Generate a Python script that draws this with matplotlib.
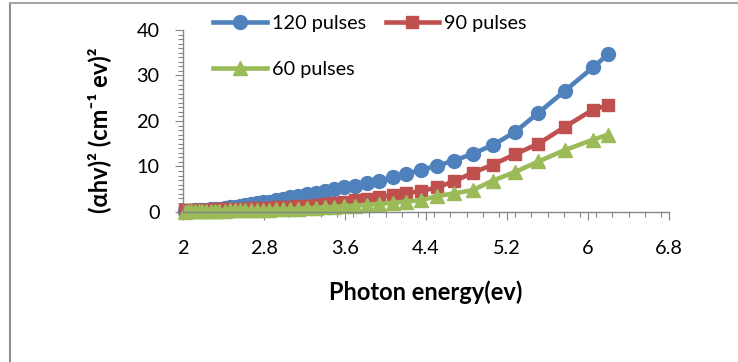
import matplotlib
matplotlib.use("Agg")
import matplotlib.pyplot as plt
from matplotlib.lines import Line2D
from matplotlib.ticker import MultipleLocator

plt.rcParams['font.family'] = ['Lato', 'DejaVu Sans']

# photon energy (eV) and (alpha h v)^2
energy = [6.20, 6.05, 5.77, 5.51, 5.28, 5.06, 4.86, 4.68, 4.51, 4.35, 4.20,
          4.07, 3.94, 3.82, 3.70, 3.59, 3.49, 3.40, 3.31, 3.22, 3.14, 3.06,
          2.99, 2.92, 2.85, 2.79, 2.73, 2.67, 2.61, 2.56, 2.51, 2.46, 2.41,
          2.36, 2.32, 2.28, 2.23, 2.19, 2.16, 2.12, 2.08, 2.05, 2.02]
pulses120 = [34.7, 31.8, 26.6, 21.8, 17.6, 14.7, 12.8, 11.3, 10.2, 9.2, 8.4,
             7.6, 6.9, 6.3, 5.8, 5.4, 5.0, 4.6, 4.2, 3.9, 3.5, 3.2,
             2.9, 2.6, 2.3, 2.1, 1.9, 1.7, 1.5, 1.3, 1.1, 1.0, 0.85,
             0.75, 0.65, 0.55, 0.5, 0.45, 0.4, 0.35, 0.3, 0.25, 0.2]
pulses90 = [23.5, 22.5, 18.7, 15.0, 12.7, 10.4, 8.6, 6.8, 5.4, 4.6, 4.1,
            3.7, 3.3, 2.9, 2.6, 2.3, 2.0, 1.8, 1.6, 1.4, 1.3, 1.2,
            1.1, 1.0, 0.95, 0.9, 0.85, 0.8, 0.75, 0.7, 0.65, 0.6, 0.6,
            0.55, 0.55, 0.5, 0.5, 0.5, 0.45, 0.45, 0.45, 0.45, 0.45]
pulses60 = [17.0, 15.9, 13.6, 11.1, 8.8, 6.9, 4.8, 4.1, 3.5, 2.6, 2.3,
            2.0, 1.8, 1.6, 1.4, 1.3, 1.1, 1.0, 0.9, 0.8, 0.7, 0.65,
            0.6, 0.55, 0.5, 0.5, 0.45, 0.45, 0.4, 0.4, 0.35, 0.35, 0.3,
            0.3, 0.3, 0.25, 0.25, 0.25, 0.2, 0.2, 0.2, 0.15, 0.1]
labels = ["120 pulses", "90 pulses", "60 pulses"]
xticks = [2, 2.8, 3.6, 4.4, 5.2, 6, 6.8]
yticks = [0, 10, 20, 30, 40]

fs = 14.3
lfs = 17
gray = '#868686'

fig = plt.figure(figsize=(7.38, 3.62), dpi=100)
ax = fig.add_axes([183/738, 1-212/362, (669-183)/738, (212-30)/362])

lw = 3.3
h1, = ax.plot(energy, pulses120, color='#4F81BD', lw=lw, marker='o', ms=10, clip_on=False, label=labels[0])
h2, = ax.plot(energy, pulses90, color='#C0504D', lw=lw, marker='s', ms=9, clip_on=False, label=labels[1])
h3, = ax.plot(energy, pulses60, color='#9BBB59', lw=lw, marker='^', ms=10, clip_on=False, label=labels[2])

ax.set_xlim(2, 6.8)
ax.set_ylim(0, 40)
ax.set_xticks(xticks)
ax.set_xticklabels([str(t) for t in xticks])
ax.set_yticks(yticks)
ax.xaxis.set_minor_locator(MultipleLocator(0.16))
ax.yaxis.set_minor_locator(MultipleLocator(1))

for s in ['top', 'right']:
    ax.spines[s].set_visible(False)
for s in ['left', 'bottom']:
    ax.spines[s].set_color(gray)
    ax.spines[s].set_linewidth(1.0)
ax.tick_params(which='major', length=6, width=0.8, color=gray, labelsize=fs, pad=11)
ax.tick_params(which='minor', length=3.5, width=0.8, color=gray)
ax.tick_params(axis='x', which='major', pad=14)

ax.set_xlabel("Photon energy(ev)", fontsize=lfs, fontweight='bold', labelpad=17)
ax.set_ylabel("(αhv)² (cm⁻¹ ev)²", fontsize=lfs, fontweight='bold')
ax.yaxis.set_label_coords(-72/486, 0.45)

fig.legend([h1, h3, h2], [labels[0], labels[2], labels[1]], ncol=2,
           loc='upper left', bbox_to_anchor=(213/738, 1-15/362),
           frameon=False, fontsize=fs, handlelength=2.7, handletextpad=0.25,
           columnspacing=1.0, labelspacing=1.45, borderpad=0, borderaxespad=0)

# chart area border
fig.add_artist(Line2D([10/738, 10/738], [0, 1-3/362], transform=fig.transFigure, color='#8c8c8c', lw=1.5))
fig.add_artist(Line2D([10/738, 1], [1-3/362, 1-3/362], transform=fig.transFigure, color='#a6a6a6', lw=1.5))

fig.savefig("out.png", dpi=100)
